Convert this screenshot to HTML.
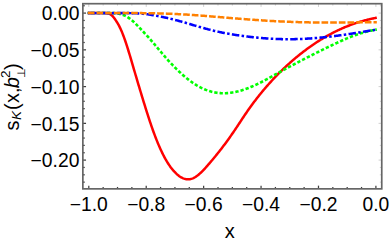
<!DOCTYPE html>
<html><head><meta charset="utf-8"><title>plot</title>
<style>
html,body{margin:0;padding:0;background:#fff;}
body{width:390px;height:243px;overflow:hidden;font-family:"Liberation Sans",sans-serif;}
svg{display:block;}
</style></head><body>
<svg width="390" height="243" viewBox="0 0 390 243">
<rect x="0" y="0" width="390" height="243" fill="#ffffff"/>
<clipPath id="c"><rect x="82.85" y="3.7" width="298.9" height="185.15"/></clipPath>
<g clip-path="url(#c)" fill="none" stroke-linejoin="round">
<path d="M87.70,13.00 L88.42,13.00 L89.15,13.00 L89.87,13.00 L90.60,13.00 L91.32,13.00 L92.05,13.00 L92.77,13.00 L93.50,13.00 L94.22,13.00 L94.95,13.00 L95.67,13.00 L96.40,13.00 L97.12,13.00 L97.84,13.00 L98.57,13.00 L99.29,13.00 L100.02,13.00 L100.74,13.01 L101.47,13.01 L102.19,13.01 L102.92,13.02 L103.64,13.03 L104.37,13.05 L105.09,13.08 L105.82,13.13 L106.54,13.19 L107.26,13.29 L107.99,13.43 L108.71,13.63 L109.44,13.89 L110.16,14.23 L110.89,14.68 L111.61,15.23 L112.34,15.90 L113.06,16.69 L113.79,17.58 L114.51,18.55 L115.23,19.58 L115.96,20.65 L116.68,21.75 L117.41,22.91 L118.13,24.13 L118.86,25.43 L119.58,26.84 L120.31,28.33 L121.03,29.92 L121.76,31.61 L122.48,33.38 L123.21,35.24 L123.93,37.17 L124.65,39.19 L125.38,41.28 L126.10,43.44 L126.83,45.66 L127.55,47.93 L128.28,50.25 L129.00,52.61 L129.73,55.01 L130.45,57.44 L131.18,59.89 L131.90,62.35 L132.63,64.83 L133.35,67.31 L134.07,69.79 L134.80,72.27 L135.52,74.74 L136.25,77.21 L136.97,79.66 L137.70,82.10 L138.42,84.52 L139.15,86.94 L139.87,89.34 L140.60,91.74 L141.32,94.13 L142.05,96.51 L142.77,98.89 L143.49,101.27 L144.22,103.63 L144.94,105.98 L145.67,108.31 L146.39,110.62 L147.12,112.91 L147.84,115.18 L148.57,117.42 L149.29,119.64 L150.02,121.82 L150.74,123.97 L151.47,126.09 L152.19,128.17 L152.91,130.21 L153.64,132.22 L154.36,134.19 L155.09,136.12 L155.81,138.00 L156.54,139.85 L157.26,141.65 L157.99,143.42 L158.71,145.14 L159.44,146.81 L160.16,148.45 L160.88,150.04 L161.61,151.58 L162.33,153.09 L163.06,154.54 L163.78,155.96 L164.51,157.32 L165.23,158.65 L165.96,159.92 L166.68,161.16 L167.41,162.35 L168.13,163.49 L168.86,164.60 L169.58,165.66 L170.30,166.68 L171.03,167.66 L171.75,168.59 L172.48,169.49 L173.20,170.35 L173.93,171.18 L174.65,171.97 L175.38,172.72 L176.10,173.43 L176.83,174.11 L177.55,174.75 L178.28,175.35 L179.00,175.91 L179.72,176.42 L180.45,176.90 L181.17,177.34 L181.90,177.73 L182.62,178.08 L183.35,178.39 L184.07,178.66 L184.80,178.88 L185.52,179.06 L186.25,179.19 L186.97,179.28 L187.70,179.32 L188.42,179.32 L189.14,179.27 L189.87,179.18 L190.59,179.04 L191.32,178.86 L192.04,178.63 L192.77,178.35 L193.49,178.03 L194.22,177.67 L194.94,177.26 L195.67,176.82 L196.39,176.34 L197.12,175.82 L197.84,175.27 L198.56,174.68 L199.29,174.07 L200.01,173.43 L200.74,172.76 L201.46,172.07 L202.19,171.35 L202.91,170.62 L203.64,169.86 L204.36,169.09 L205.09,168.30 L205.81,167.50 L206.54,166.69 L207.26,165.87 L207.98,165.03 L208.71,164.19 L209.43,163.35 L210.16,162.50 L210.88,161.65 L211.61,160.79 L212.33,159.93 L213.06,159.06 L213.78,158.19 L214.51,157.31 L215.23,156.43 L215.95,155.54 L216.68,154.65 L217.40,153.75 L218.13,152.84 L218.85,151.93 L219.58,151.01 L220.30,150.09 L221.03,149.15 L221.75,148.21 L222.48,147.27 L223.20,146.32 L223.93,145.36 L224.65,144.39 L225.37,143.41 L226.10,142.43 L226.82,141.44 L227.55,140.45 L228.27,139.44 L229.00,138.43 L229.72,137.41 L230.45,136.39 L231.17,135.36 L231.90,134.31 L232.62,133.27 L233.35,132.21 L234.07,131.15 L234.79,130.08 L235.52,129.00 L236.24,127.92 L236.97,126.83 L237.69,125.74 L238.42,124.64 L239.14,123.54 L239.87,122.45 L240.59,121.35 L241.32,120.25 L242.04,119.15 L242.77,118.06 L243.49,116.97 L244.21,115.89 L244.94,114.81 L245.66,113.74 L246.39,112.68 L247.11,111.63 L247.84,110.58 L248.56,109.55 L249.29,108.52 L250.01,107.51 L250.74,106.50 L251.46,105.50 L252.19,104.52 L252.91,103.54 L253.63,102.56 L254.36,101.60 L255.08,100.65 L255.81,99.70 L256.53,98.76 L257.26,97.83 L257.98,96.91 L258.71,96.00 L259.43,95.09 L260.16,94.19 L260.88,93.30 L261.60,92.42 L262.33,91.54 L263.05,90.67 L263.78,89.81 L264.50,88.96 L265.23,88.11 L265.95,87.27 L266.68,86.43 L267.40,85.60 L268.13,84.78 L268.85,83.97 L269.58,83.16 L270.30,82.36 L271.02,81.56 L271.75,80.77 L272.47,79.99 L273.20,79.21 L273.92,78.44 L274.65,77.67 L275.37,76.91 L276.10,76.16 L276.82,75.41 L277.55,74.67 L278.27,73.94 L279.00,73.21 L279.72,72.48 L280.44,71.76 L281.17,71.05 L281.89,70.34 L282.62,69.64 L283.34,68.94 L284.07,68.25 L284.79,67.56 L285.52,66.88 L286.24,66.21 L286.97,65.54 L287.69,64.87 L288.42,64.21 L289.14,63.56 L289.86,62.91 L290.59,62.26 L291.31,61.63 L292.04,60.99 L292.76,60.36 L293.49,59.74 L294.21,59.12 L294.94,58.51 L295.66,57.90 L296.39,57.29 L297.11,56.69 L297.84,56.10 L298.56,55.51 L299.28,54.93 L300.01,54.35 L300.73,53.77 L301.46,53.20 L302.18,52.64 L302.91,52.07 L303.63,51.52 L304.36,50.97 L305.08,50.42 L305.81,49.88 L306.53,49.34 L307.25,48.81 L307.98,48.28 L308.70,47.76 L309.43,47.24 L310.15,46.72 L310.88,46.21 L311.60,45.71 L312.33,45.20 L313.05,44.71 L313.78,44.22 L314.50,43.73 L315.23,43.24 L315.95,42.77 L316.67,42.29 L317.40,41.82 L318.12,41.36 L318.85,40.89 L319.57,40.44 L320.30,39.99 L321.02,39.54 L321.75,39.09 L322.47,38.65 L323.20,38.22 L323.92,37.79 L324.65,37.36 L325.37,36.94 L326.09,36.53 L326.82,36.11 L327.54,35.70 L328.27,35.30 L328.99,34.90 L329.72,34.51 L330.44,34.12 L331.17,33.73 L331.89,33.35 L332.62,32.97 L333.34,32.60 L334.07,32.23 L334.79,31.86 L335.51,31.50 L336.24,31.14 L336.96,30.79 L337.69,30.45 L338.41,30.10 L339.14,29.76 L339.86,29.43 L340.59,29.10 L341.31,28.77 L342.04,28.45 L342.76,28.13 L343.49,27.82 L344.21,27.51 L344.93,27.21 L345.66,26.91 L346.38,26.61 L347.11,26.32 L347.83,26.03 L348.56,25.75 L349.28,25.47 L350.01,25.19 L350.73,24.92 L351.46,24.65 L352.18,24.39 L352.91,24.13 L353.63,23.87 L354.35,23.62 L355.08,23.38 L355.80,23.13 L356.53,22.89 L357.25,22.66 L357.98,22.43 L358.70,22.20 L359.43,21.98 L360.15,21.76 L360.88,21.54 L361.60,21.33 L362.32,21.12 L363.05,20.91 L363.77,20.71 L364.50,20.52 L365.22,20.32 L365.95,20.13 L366.67,19.95 L367.40,19.76 L368.12,19.58 L368.85,19.41 L369.57,19.23 L370.30,19.07 L371.02,18.90 L371.74,18.74 L372.47,18.58 L373.19,18.42 L373.92,18.27 L374.64,18.12 L375.37,17.98 L376.09,17.83 L376.82,17.69" stroke="#ff0000" stroke-width="2.5"/>
<path d="M87.70,13.00 L88.42,13.00 L89.15,13.00 L89.87,13.00 L90.60,13.00 L91.32,13.00 L92.05,13.00 L92.77,13.00 L93.50,13.00 L94.22,13.00 L94.95,13.00 L95.67,13.00 L96.40,13.00 L97.12,13.00 L97.84,13.00 L98.57,13.00 L99.29,13.00 L100.02,13.00 L100.74,13.00 L101.47,13.00 L102.19,13.00 L102.92,13.00 L103.64,13.00 L104.37,13.00 L105.09,13.00 L105.82,13.00 L106.54,13.00 L107.26,13.00 L107.99,13.01 L108.71,13.01 L109.44,13.02 L110.16,13.02 L110.89,13.03 L111.61,13.05 L112.34,13.07 L113.06,13.10 L113.79,13.14 L114.51,13.19 L115.23,13.25 L115.96,13.33 L116.68,13.42 L117.41,13.52 L118.13,13.64 L118.86,13.77 L119.58,13.91 L120.31,14.08 L121.03,14.26 L121.76,14.47 L122.48,14.70 L123.21,14.96 L123.93,15.24 L124.65,15.56 L125.38,15.90 L126.10,16.27 L126.83,16.68 L127.55,17.11 L128.28,17.57 L129.00,18.06 L129.73,18.58 L130.45,19.13 L131.18,19.71 L131.90,20.31 L132.63,20.94 L133.35,21.58 L134.07,22.25 L134.80,22.94 L135.52,23.64 L136.25,24.36 L136.97,25.09 L137.70,25.83 L138.42,26.58 L139.15,27.34 L139.87,28.10 L140.60,28.87 L141.32,29.64 L142.05,30.42 L142.77,31.19 L143.49,31.97 L144.22,32.75 L144.94,33.53 L145.67,34.31 L146.39,35.09 L147.12,35.88 L147.84,36.68 L148.57,37.49 L149.29,38.30 L150.02,39.12 L150.74,39.95 L151.47,40.78 L152.19,41.62 L152.91,42.47 L153.64,43.32 L154.36,44.17 L155.09,45.03 L155.81,45.89 L156.54,46.75 L157.26,47.61 L157.99,48.48 L158.71,49.34 L159.44,50.20 L160.16,51.06 L160.88,51.92 L161.61,52.78 L162.33,53.63 L163.06,54.48 L163.78,55.32 L164.51,56.16 L165.23,57.00 L165.96,57.83 L166.68,58.65 L167.41,59.47 L168.13,60.28 L168.86,61.08 L169.58,61.87 L170.30,62.66 L171.03,63.44 L171.75,64.21 L172.48,64.98 L173.20,65.73 L173.93,66.48 L174.65,67.22 L175.38,67.95 L176.10,68.67 L176.83,69.38 L177.55,70.08 L178.28,70.78 L179.00,71.47 L179.72,72.15 L180.45,72.82 L181.17,73.48 L181.90,74.14 L182.62,74.78 L183.35,75.42 L184.07,76.05 L184.80,76.67 L185.52,77.28 L186.25,77.88 L186.97,78.47 L187.70,79.05 L188.42,79.62 L189.14,80.18 L189.87,80.73 L190.59,81.27 L191.32,81.80 L192.04,82.31 L192.77,82.82 L193.49,83.31 L194.22,83.79 L194.94,84.26 L195.67,84.72 L196.39,85.17 L197.12,85.60 L197.84,86.02 L198.56,86.43 L199.29,86.83 L200.01,87.21 L200.74,87.59 L201.46,87.95 L202.19,88.30 L202.91,88.63 L203.64,88.96 L204.36,89.27 L205.09,89.57 L205.81,89.85 L206.54,90.13 L207.26,90.39 L207.98,90.64 L208.71,90.88 L209.43,91.11 L210.16,91.33 L210.88,91.53 L211.61,91.72 L212.33,91.90 L213.06,92.07 L213.78,92.23 L214.51,92.37 L215.23,92.51 L215.95,92.63 L216.68,92.74 L217.40,92.84 L218.13,92.93 L218.85,93.00 L219.58,93.07 L220.30,93.12 L221.03,93.17 L221.75,93.20 L222.48,93.22 L223.20,93.23 L223.93,93.24 L224.65,93.23 L225.37,93.21 L226.10,93.18 L226.82,93.14 L227.55,93.09 L228.27,93.03 L229.00,92.96 L229.72,92.88 L230.45,92.79 L231.17,92.69 L231.90,92.58 L232.62,92.47 L233.35,92.34 L234.07,92.21 L234.79,92.07 L235.52,91.92 L236.24,91.76 L236.97,91.59 L237.69,91.42 L238.42,91.24 L239.14,91.05 L239.87,90.85 L240.59,90.64 L241.32,90.43 L242.04,90.21 L242.77,89.98 L243.49,89.75 L244.21,89.51 L244.94,89.26 L245.66,89.01 L246.39,88.75 L247.11,88.48 L247.84,88.21 L248.56,87.93 L249.29,87.64 L250.01,87.35 L250.74,87.05 L251.46,86.75 L252.19,86.44 L252.91,86.13 L253.63,85.81 L254.36,85.48 L255.08,85.15 L255.81,84.82 L256.53,84.48 L257.26,84.14 L257.98,83.79 L258.71,83.44 L259.43,83.08 L260.16,82.72 L260.88,82.36 L261.60,81.99 L262.33,81.61 L263.05,81.24 L263.78,80.86 L264.50,80.48 L265.23,80.09 L265.95,79.70 L266.68,79.31 L267.40,78.92 L268.13,78.53 L268.85,78.13 L269.58,77.73 L270.30,77.33 L271.02,76.93 L271.75,76.53 L272.47,76.12 L273.20,75.72 L273.92,75.32 L274.65,74.91 L275.37,74.51 L276.10,74.10 L276.82,73.70 L277.55,73.29 L278.27,72.89 L279.00,72.49 L279.72,72.08 L280.44,71.68 L281.17,71.28 L281.89,70.89 L282.62,70.49 L283.34,70.09 L284.07,69.70 L284.79,69.30 L285.52,68.91 L286.24,68.51 L286.97,68.12 L287.69,67.73 L288.42,67.34 L289.14,66.95 L289.86,66.56 L290.59,66.18 L291.31,65.79 L292.04,65.41 L292.76,65.02 L293.49,64.64 L294.21,64.25 L294.94,63.87 L295.66,63.49 L296.39,63.11 L297.11,62.73 L297.84,62.34 L298.56,61.97 L299.28,61.59 L300.01,61.21 L300.73,60.83 L301.46,60.45 L302.18,60.08 L302.91,59.70 L303.63,59.33 L304.36,58.95 L305.08,58.58 L305.81,58.21 L306.53,57.83 L307.25,57.46 L307.98,57.09 L308.70,56.72 L309.43,56.35 L310.15,55.98 L310.88,55.61 L311.60,55.25 L312.33,54.88 L313.05,54.51 L313.78,54.15 L314.50,53.78 L315.23,53.42 L315.95,53.05 L316.67,52.69 L317.40,52.33 L318.12,51.97 L318.85,51.60 L319.57,51.24 L320.30,50.88 L321.02,50.53 L321.75,50.17 L322.47,49.81 L323.20,49.45 L323.92,49.10 L324.65,48.74 L325.37,48.39 L326.09,48.04 L326.82,47.69 L327.54,47.33 L328.27,46.98 L328.99,46.63 L329.72,46.29 L330.44,45.94 L331.17,45.59 L331.89,45.25 L332.62,44.90 L333.34,44.56 L334.07,44.22 L334.79,43.88 L335.51,43.54 L336.24,43.20 L336.96,42.86 L337.69,42.53 L338.41,42.19 L339.14,41.86 L339.86,41.53 L340.59,41.20 L341.31,40.87 L342.04,40.55 L342.76,40.22 L343.49,39.90 L344.21,39.59 L344.93,39.27 L345.66,38.96 L346.38,38.66 L347.11,38.35 L347.83,38.05 L348.56,37.75 L349.28,37.46 L350.01,37.17 L350.73,36.89 L351.46,36.60 L352.18,36.33 L352.91,36.05 L353.63,35.78 L354.35,35.52 L355.08,35.25 L355.80,35.00 L356.53,34.74 L357.25,34.49 L357.98,34.25 L358.70,34.01 L359.43,33.77 L360.15,33.54 L360.88,33.32 L361.60,33.09 L362.32,32.88 L363.05,32.66 L363.77,32.46 L364.50,32.25 L365.22,32.05 L365.95,31.86 L366.67,31.67 L367.40,31.48 L368.12,31.30 L368.85,31.12 L369.57,30.95 L370.30,30.78 L371.02,30.62 L371.74,30.46 L372.47,30.31 L373.19,30.16 L373.92,30.02 L374.64,29.88 L375.37,29.74 L376.09,29.61 L376.82,29.48" stroke="#00ff00" stroke-width="2.6" stroke-dasharray="3.3 2.0" stroke-dashoffset="1.86"/>
<path d="M87.70,13.00 L88.42,13.00 L89.15,13.00 L89.87,13.00 L90.60,13.00 L91.32,13.00 L92.05,13.00 L92.77,13.00 L93.50,13.00 L94.22,13.00 L94.95,13.00 L95.67,13.00 L96.40,13.00 L97.12,13.00 L97.84,13.00 L98.57,13.00 L99.29,13.00 L100.02,13.00 L100.74,13.00 L101.47,13.00 L102.19,13.00 L102.92,13.00 L103.64,13.00 L104.37,13.00 L105.09,13.00 L105.82,13.00 L106.54,13.00 L107.26,13.00 L107.99,13.00 L108.71,13.00 L109.44,13.00 L110.16,13.00 L110.89,13.00 L111.61,13.00 L112.34,13.00 L113.06,13.00 L113.79,13.00 L114.51,13.00 L115.23,13.00 L115.96,13.00 L116.68,13.00 L117.41,13.00 L118.13,13.01 L118.86,13.01 L119.58,13.01 L120.31,13.01 L121.03,13.01 L121.76,13.01 L122.48,13.02 L123.21,13.02 L123.93,13.02 L124.65,13.03 L125.38,13.03 L126.10,13.04 L126.83,13.04 L127.55,13.05 L128.28,13.06 L129.00,13.07 L129.73,13.08 L130.45,13.09 L131.18,13.11 L131.90,13.13 L132.63,13.15 L133.35,13.17 L134.07,13.19 L134.80,13.22 L135.52,13.25 L136.25,13.29 L136.97,13.32 L137.70,13.36 L138.42,13.41 L139.15,13.46 L139.87,13.51 L140.60,13.56 L141.32,13.63 L142.05,13.69 L142.77,13.76 L143.49,13.83 L144.22,13.91 L144.94,13.99 L145.67,14.08 L146.39,14.17 L147.12,14.26 L147.84,14.36 L148.57,14.46 L149.29,14.57 L150.02,14.68 L150.74,14.79 L151.47,14.91 L152.19,15.03 L152.91,15.15 L153.64,15.27 L154.36,15.40 L155.09,15.53 L155.81,15.66 L156.54,15.80 L157.26,15.93 L157.99,16.07 L158.71,16.21 L159.44,16.35 L160.16,16.50 L160.88,16.64 L161.61,16.79 L162.33,16.93 L163.06,17.08 L163.78,17.23 L164.51,17.39 L165.23,17.54 L165.96,17.70 L166.68,17.86 L167.41,18.02 L168.13,18.18 L168.86,18.35 L169.58,18.52 L170.30,18.69 L171.03,18.87 L171.75,19.05 L172.48,19.23 L173.20,19.41 L173.93,19.59 L174.65,19.78 L175.38,19.97 L176.10,20.16 L176.83,20.36 L177.55,20.55 L178.28,20.75 L179.00,20.95 L179.72,21.15 L180.45,21.36 L181.17,21.56 L181.90,21.77 L182.62,21.97 L183.35,22.18 L184.07,22.39 L184.80,22.60 L185.52,22.81 L186.25,23.03 L186.97,23.24 L187.70,23.45 L188.42,23.67 L189.14,23.88 L189.87,24.09 L190.59,24.31 L191.32,24.52 L192.04,24.74 L192.77,24.95 L193.49,25.17 L194.22,25.38 L194.94,25.60 L195.67,25.81 L196.39,26.02 L197.12,26.23 L197.84,26.44 L198.56,26.65 L199.29,26.86 L200.01,27.07 L200.74,27.28 L201.46,27.48 L202.19,27.69 L202.91,27.89 L203.64,28.09 L204.36,28.29 L205.09,28.49 L205.81,28.69 L206.54,28.88 L207.26,29.07 L207.98,29.27 L208.71,29.45 L209.43,29.64 L210.16,29.83 L210.88,30.01 L211.61,30.19 L212.33,30.37 L213.06,30.55 L213.78,30.72 L214.51,30.89 L215.23,31.06 L215.95,31.23 L216.68,31.39 L217.40,31.56 L218.13,31.72 L218.85,31.88 L219.58,32.03 L220.30,32.19 L221.03,32.34 L221.75,32.49 L222.48,32.63 L223.20,32.78 L223.93,32.92 L224.65,33.06 L225.37,33.20 L226.10,33.34 L226.82,33.47 L227.55,33.60 L228.27,33.73 L229.00,33.86 L229.72,33.98 L230.45,34.11 L231.17,34.23 L231.90,34.35 L232.62,34.46 L233.35,34.58 L234.07,34.69 L234.79,34.81 L235.52,34.92 L236.24,35.03 L236.97,35.14 L237.69,35.24 L238.42,35.35 L239.14,35.45 L239.87,35.55 L240.59,35.65 L241.32,35.75 L242.04,35.85 L242.77,35.95 L243.49,36.05 L244.21,36.14 L244.94,36.24 L245.66,36.33 L246.39,36.42 L247.11,36.51 L247.84,36.60 L248.56,36.69 L249.29,36.78 L250.01,36.86 L250.74,36.95 L251.46,37.03 L252.19,37.11 L252.91,37.19 L253.63,37.27 L254.36,37.35 L255.08,37.42 L255.81,37.50 L256.53,37.57 L257.26,37.64 L257.98,37.71 L258.71,37.78 L259.43,37.85 L260.16,37.91 L260.88,37.98 L261.60,38.04 L262.33,38.10 L263.05,38.16 L263.78,38.22 L264.50,38.27 L265.23,38.33 L265.95,38.38 L266.68,38.43 L267.40,38.48 L268.13,38.53 L268.85,38.58 L269.58,38.62 L270.30,38.67 L271.02,38.71 L271.75,38.75 L272.47,38.79 L273.20,38.82 L273.92,38.86 L274.65,38.89 L275.37,38.92 L276.10,38.95 L276.82,38.98 L277.55,39.01 L278.27,39.03 L279.00,39.06 L279.72,39.08 L280.44,39.10 L281.17,39.11 L281.89,39.13 L282.62,39.15 L283.34,39.16 L284.07,39.17 L284.79,39.18 L285.52,39.19 L286.24,39.19 L286.97,39.20 L287.69,39.20 L288.42,39.20 L289.14,39.20 L289.86,39.20 L290.59,39.19 L291.31,39.19 L292.04,39.18 L292.76,39.17 L293.49,39.16 L294.21,39.15 L294.94,39.13 L295.66,39.12 L296.39,39.10 L297.11,39.08 L297.84,39.06 L298.56,39.04 L299.28,39.01 L300.01,38.99 L300.73,38.96 L301.46,38.93 L302.18,38.90 L302.91,38.87 L303.63,38.84 L304.36,38.80 L305.08,38.76 L305.81,38.72 L306.53,38.68 L307.25,38.64 L307.98,38.60 L308.70,38.55 L309.43,38.51 L310.15,38.46 L310.88,38.41 L311.60,38.36 L312.33,38.31 L313.05,38.25 L313.78,38.20 L314.50,38.14 L315.23,38.08 L315.95,38.02 L316.67,37.96 L317.40,37.90 L318.12,37.84 L318.85,37.77 L319.57,37.70 L320.30,37.64 L321.02,37.57 L321.75,37.50 L322.47,37.42 L323.20,37.35 L323.92,37.28 L324.65,37.20 L325.37,37.12 L326.09,37.05 L326.82,36.97 L327.54,36.89 L328.27,36.81 L328.99,36.72 L329.72,36.64 L330.44,36.55 L331.17,36.47 L331.89,36.38 L332.62,36.29 L333.34,36.20 L334.07,36.11 L334.79,36.02 L335.51,35.93 L336.24,35.83 L336.96,35.74 L337.69,35.64 L338.41,35.55 L339.14,35.45 L339.86,35.35 L340.59,35.25 L341.31,35.15 L342.04,35.05 L342.76,34.95 L343.49,34.84 L344.21,34.74 L344.93,34.64 L345.66,34.53 L346.38,34.43 L347.11,34.32 L347.83,34.21 L348.56,34.10 L349.28,33.99 L350.01,33.89 L350.73,33.78 L351.46,33.66 L352.18,33.55 L352.91,33.44 L353.63,33.33 L354.35,33.22 L355.08,33.10 L355.80,32.99 L356.53,32.87 L357.25,32.76 L357.98,32.64 L358.70,32.53 L359.43,32.41 L360.15,32.29 L360.88,32.18 L361.60,32.06 L362.32,31.94 L363.05,31.82 L363.77,31.70 L364.50,31.58 L365.22,31.46 L365.95,31.34 L366.67,31.23 L367.40,31.10 L368.12,30.98 L368.85,30.86 L369.57,30.74 L370.30,30.62 L371.02,30.50 L371.74,30.38 L372.47,30.26 L373.19,30.14 L373.92,30.01 L374.64,29.89 L375.37,29.77 L376.09,29.65 L376.82,29.53" stroke="#0000ff" stroke-width="2.55" stroke-dasharray="7.5 2.3 2.5 2.35" stroke-dashoffset="14.48"/>
<path d="M87.85,13.10 L133,13.10" stroke="#0000ff" stroke-width="2.2"/>
<path d="M87.70,13.00 L88.42,13.00 L89.15,13.00 L89.87,13.00 L90.60,13.00 L91.32,13.00 L92.05,13.00 L92.77,13.00 L93.50,13.00 L94.22,13.00 L94.95,13.00 L95.67,13.00 L96.40,13.00 L97.12,13.00 L97.84,13.00 L98.57,13.00 L99.29,13.00 L100.02,13.00 L100.74,13.00 L101.47,13.00 L102.19,13.00 L102.92,13.00 L103.64,13.00 L104.37,13.00 L105.09,13.00 L105.82,13.00 L106.54,13.00 L107.26,13.00 L107.99,13.00 L108.71,13.00 L109.44,13.00 L110.16,13.01 L110.89,13.01 L111.61,13.01 L112.34,13.01 L113.06,13.01 L113.79,13.01 L114.51,13.01 L115.23,13.01 L115.96,13.01 L116.68,13.01 L117.41,13.01 L118.13,13.01 L118.86,13.01 L119.58,13.01 L120.31,13.02 L121.03,13.02 L121.76,13.02 L122.48,13.02 L123.21,13.02 L123.93,13.02 L124.65,13.03 L125.38,13.03 L126.10,13.03 L126.83,13.03 L127.55,13.03 L128.28,13.04 L129.00,13.04 L129.73,13.04 L130.45,13.04 L131.18,13.05 L131.90,13.05 L132.63,13.05 L133.35,13.06 L134.07,13.06 L134.80,13.07 L135.52,13.07 L136.25,13.07 L136.97,13.08 L137.70,13.08 L138.42,13.09 L139.15,13.10 L139.87,13.10 L140.60,13.11 L141.32,13.11 L142.05,13.12 L142.77,13.13 L143.49,13.14 L144.22,13.14 L144.94,13.15 L145.67,13.16 L146.39,13.17 L147.12,13.18 L147.84,13.19 L148.57,13.20 L149.29,13.21 L150.02,13.22 L150.74,13.23 L151.47,13.24 L152.19,13.26 L152.91,13.27 L153.64,13.28 L154.36,13.30 L155.09,13.31 L155.81,13.33 L156.54,13.34 L157.26,13.36 L157.99,13.38 L158.71,13.39 L159.44,13.41 L160.16,13.43 L160.88,13.45 L161.61,13.47 L162.33,13.49 L163.06,13.51 L163.78,13.54 L164.51,13.56 L165.23,13.58 L165.96,13.61 L166.68,13.63 L167.41,13.66 L168.13,13.68 L168.86,13.71 L169.58,13.74 L170.30,13.77 L171.03,13.79 L171.75,13.82 L172.48,13.85 L173.20,13.89 L173.93,13.92 L174.65,13.95 L175.38,13.98 L176.10,14.02 L176.83,14.05 L177.55,14.09 L178.28,14.13 L179.00,14.16 L179.72,14.20 L180.45,14.24 L181.17,14.28 L181.90,14.32 L182.62,14.36 L183.35,14.40 L184.07,14.44 L184.80,14.49 L185.52,14.53 L186.25,14.58 L186.97,14.62 L187.70,14.67 L188.42,14.71 L189.14,14.76 L189.87,14.81 L190.59,14.86 L191.32,14.90 L192.04,14.95 L192.77,15.00 L193.49,15.05 L194.22,15.11 L194.94,15.16 L195.67,15.21 L196.39,15.26 L197.12,15.32 L197.84,15.37 L198.56,15.42 L199.29,15.48 L200.01,15.53 L200.74,15.59 L201.46,15.64 L202.19,15.70 L202.91,15.76 L203.64,15.81 L204.36,15.87 L205.09,15.93 L205.81,15.99 L206.54,16.04 L207.26,16.10 L207.98,16.16 L208.71,16.22 L209.43,16.28 L210.16,16.34 L210.88,16.40 L211.61,16.46 L212.33,16.52 L213.06,16.58 L213.78,16.64 L214.51,16.70 L215.23,16.76 L215.95,16.82 L216.68,16.88 L217.40,16.94 L218.13,17.00 L218.85,17.06 L219.58,17.12 L220.30,17.18 L221.03,17.24 L221.75,17.30 L222.48,17.36 L223.20,17.42 L223.93,17.48 L224.65,17.54 L225.37,17.60 L226.10,17.66 L226.82,17.72 L227.55,17.78 L228.27,17.84 L229.00,17.89 L229.72,17.95 L230.45,18.01 L231.17,18.07 L231.90,18.13 L232.62,18.19 L233.35,18.25 L234.07,18.30 L234.79,18.36 L235.52,18.42 L236.24,18.48 L236.97,18.53 L237.69,18.59 L238.42,18.65 L239.14,18.71 L239.87,18.76 L240.59,18.82 L241.32,18.88 L242.04,18.93 L242.77,18.99 L243.49,19.04 L244.21,19.10 L244.94,19.16 L245.66,19.21 L246.39,19.27 L247.11,19.32 L247.84,19.38 L248.56,19.43 L249.29,19.48 L250.01,19.54 L250.74,19.59 L251.46,19.64 L252.19,19.70 L252.91,19.75 L253.63,19.80 L254.36,19.85 L255.08,19.91 L255.81,19.96 L256.53,20.01 L257.26,20.06 L257.98,20.11 L258.71,20.16 L259.43,20.21 L260.16,20.26 L260.88,20.31 L261.60,20.35 L262.33,20.40 L263.05,20.45 L263.78,20.50 L264.50,20.54 L265.23,20.59 L265.95,20.63 L266.68,20.68 L267.40,20.72 L268.13,20.77 L268.85,20.81 L269.58,20.85 L270.30,20.90 L271.02,20.94 L271.75,20.98 L272.47,21.02 L273.20,21.06 L273.92,21.10 L274.65,21.14 L275.37,21.18 L276.10,21.22 L276.82,21.25 L277.55,21.29 L278.27,21.33 L279.00,21.36 L279.72,21.40 L280.44,21.44 L281.17,21.47 L281.89,21.50 L282.62,21.54 L283.34,21.57 L284.07,21.60 L284.79,21.63 L285.52,21.67 L286.24,21.70 L286.97,21.73 L287.69,21.76 L288.42,21.78 L289.14,21.81 L289.86,21.84 L290.59,21.87 L291.31,21.89 L292.04,21.92 L292.76,21.95 L293.49,21.97 L294.21,21.99 L294.94,22.02 L295.66,22.04 L296.39,22.06 L297.11,22.09 L297.84,22.11 L298.56,22.13 L299.28,22.15 L300.01,22.17 L300.73,22.19 L301.46,22.21 L302.18,22.22 L302.91,22.24 L303.63,22.26 L304.36,22.28 L305.08,22.29 L305.81,22.31 L306.53,22.32 L307.25,22.34 L307.98,22.35 L308.70,22.36 L309.43,22.38 L310.15,22.39 L310.88,22.40 L311.60,22.41 L312.33,22.42 L313.05,22.43 L313.78,22.44 L314.50,22.45 L315.23,22.46 L315.95,22.47 L316.67,22.48 L317.40,22.48 L318.12,22.49 L318.85,22.50 L319.57,22.50 L320.30,22.51 L321.02,22.52 L321.75,22.52 L322.47,22.52 L323.20,22.53 L323.92,22.53 L324.65,22.54 L325.37,22.54 L326.09,22.54 L326.82,22.54 L327.54,22.54 L328.27,22.55 L328.99,22.55 L329.72,22.55 L330.44,22.55 L331.17,22.55 L331.89,22.55 L332.62,22.55 L333.34,22.55 L334.07,22.54 L334.79,22.54 L335.51,22.54 L336.24,22.54 L336.96,22.53 L337.69,22.53 L338.41,22.53 L339.14,22.52 L339.86,22.52 L340.59,22.52 L341.31,22.51 L342.04,22.51 L342.76,22.50 L343.49,22.50 L344.21,22.49 L344.93,22.49 L345.66,22.48 L346.38,22.48 L347.11,22.47 L347.83,22.46 L348.56,22.46 L349.28,22.45 L350.01,22.44 L350.73,22.44 L351.46,22.43 L352.18,22.42 L352.91,22.41 L353.63,22.41 L354.35,22.40 L355.08,22.39 L355.80,22.38 L356.53,22.38 L357.25,22.37 L357.98,22.36 L358.70,22.35 L359.43,22.34 L360.15,22.33 L360.88,22.33 L361.60,22.32 L362.32,22.31 L363.05,22.30 L363.77,22.29 L364.50,22.28 L365.22,22.27 L365.95,22.26 L366.67,22.25 L367.40,22.25 L368.12,22.24 L368.85,22.23 L369.57,22.22 L370.30,22.21 L371.02,22.20 L371.74,22.19 L372.47,22.18 L373.19,22.17 L373.92,22.17 L374.64,22.16 L375.37,22.15 L376.09,22.14 L376.82,22.13" stroke="#ff8000" stroke-width="2.5" stroke-dasharray="6.665 2.0" stroke-dashoffset="8.51"/>
</g>
<line x1="88.80" y1="188.85" x2="88.80" y2="185.65" stroke="#404040" stroke-width="1.25"/><line x1="88.80" y1="3.7" x2="88.80" y2="6.90" stroke="#b0b0b0" stroke-width="0.6"/><line x1="103.16" y1="188.85" x2="103.16" y2="186.95" stroke="#404040" stroke-width="1.25"/><line x1="103.16" y1="3.7" x2="103.16" y2="5.60" stroke="#b0b0b0" stroke-width="0.6"/><line x1="117.51" y1="188.85" x2="117.51" y2="186.95" stroke="#404040" stroke-width="1.25"/><line x1="117.51" y1="3.7" x2="117.51" y2="5.60" stroke="#b0b0b0" stroke-width="0.6"/><line x1="131.87" y1="188.85" x2="131.87" y2="186.95" stroke="#404040" stroke-width="1.25"/><line x1="131.87" y1="3.7" x2="131.87" y2="5.60" stroke="#b0b0b0" stroke-width="0.6"/><line x1="146.22" y1="188.85" x2="146.22" y2="185.65" stroke="#404040" stroke-width="1.25"/><line x1="146.22" y1="3.7" x2="146.22" y2="6.90" stroke="#b0b0b0" stroke-width="0.6"/><line x1="160.57" y1="188.85" x2="160.57" y2="186.95" stroke="#404040" stroke-width="1.25"/><line x1="160.57" y1="3.7" x2="160.57" y2="5.60" stroke="#b0b0b0" stroke-width="0.6"/><line x1="174.93" y1="188.85" x2="174.93" y2="186.95" stroke="#404040" stroke-width="1.25"/><line x1="174.93" y1="3.7" x2="174.93" y2="5.60" stroke="#b0b0b0" stroke-width="0.6"/><line x1="189.28" y1="188.85" x2="189.28" y2="186.95" stroke="#404040" stroke-width="1.25"/><line x1="189.28" y1="3.7" x2="189.28" y2="5.60" stroke="#b0b0b0" stroke-width="0.6"/><line x1="203.64" y1="188.85" x2="203.64" y2="185.65" stroke="#404040" stroke-width="1.25"/><line x1="203.64" y1="3.7" x2="203.64" y2="6.90" stroke="#b0b0b0" stroke-width="0.6"/><line x1="218.00" y1="188.85" x2="218.00" y2="186.95" stroke="#404040" stroke-width="1.25"/><line x1="218.00" y1="3.7" x2="218.00" y2="5.60" stroke="#b0b0b0" stroke-width="0.6"/><line x1="232.35" y1="188.85" x2="232.35" y2="186.95" stroke="#404040" stroke-width="1.25"/><line x1="232.35" y1="3.7" x2="232.35" y2="5.60" stroke="#b0b0b0" stroke-width="0.6"/><line x1="246.70" y1="188.85" x2="246.70" y2="186.95" stroke="#404040" stroke-width="1.25"/><line x1="246.70" y1="3.7" x2="246.70" y2="5.60" stroke="#b0b0b0" stroke-width="0.6"/><line x1="261.06" y1="188.85" x2="261.06" y2="185.65" stroke="#404040" stroke-width="1.25"/><line x1="261.06" y1="3.7" x2="261.06" y2="6.90" stroke="#b0b0b0" stroke-width="0.6"/><line x1="275.41" y1="188.85" x2="275.41" y2="186.95" stroke="#404040" stroke-width="1.25"/><line x1="275.41" y1="3.7" x2="275.41" y2="5.60" stroke="#b0b0b0" stroke-width="0.6"/><line x1="289.77" y1="188.85" x2="289.77" y2="186.95" stroke="#404040" stroke-width="1.25"/><line x1="289.77" y1="3.7" x2="289.77" y2="5.60" stroke="#b0b0b0" stroke-width="0.6"/><line x1="304.12" y1="188.85" x2="304.12" y2="186.95" stroke="#404040" stroke-width="1.25"/><line x1="304.12" y1="3.7" x2="304.12" y2="5.60" stroke="#b0b0b0" stroke-width="0.6"/><line x1="318.48" y1="188.85" x2="318.48" y2="185.65" stroke="#404040" stroke-width="1.25"/><line x1="318.48" y1="3.7" x2="318.48" y2="6.90" stroke="#b0b0b0" stroke-width="0.6"/><line x1="332.83" y1="188.85" x2="332.83" y2="186.95" stroke="#404040" stroke-width="1.25"/><line x1="332.83" y1="3.7" x2="332.83" y2="5.60" stroke="#b0b0b0" stroke-width="0.6"/><line x1="347.19" y1="188.85" x2="347.19" y2="186.95" stroke="#404040" stroke-width="1.25"/><line x1="347.19" y1="3.7" x2="347.19" y2="5.60" stroke="#b0b0b0" stroke-width="0.6"/><line x1="361.54" y1="188.85" x2="361.54" y2="186.95" stroke="#404040" stroke-width="1.25"/><line x1="361.54" y1="3.7" x2="361.54" y2="5.60" stroke="#b0b0b0" stroke-width="0.6"/><line x1="375.90" y1="188.85" x2="375.90" y2="185.65" stroke="#404040" stroke-width="1.25"/><line x1="375.90" y1="3.7" x2="375.90" y2="6.90" stroke="#b0b0b0" stroke-width="0.6"/><line x1="82.85" y1="5.75" x2="84.75" y2="5.75" stroke="#404040" stroke-width="1.25"/><line x1="381.75" y1="5.75" x2="379.85" y2="5.75" stroke="#b0b0b0" stroke-width="0.6"/><line x1="82.85" y1="13.10" x2="86.05" y2="13.10" stroke="#404040" stroke-width="1.25"/><line x1="381.75" y1="13.10" x2="378.55" y2="13.10" stroke="#b0b0b0" stroke-width="0.6"/><line x1="82.85" y1="20.45" x2="84.75" y2="20.45" stroke="#404040" stroke-width="1.25"/><line x1="381.75" y1="20.45" x2="379.85" y2="20.45" stroke="#b0b0b0" stroke-width="0.6"/><line x1="82.85" y1="27.80" x2="84.75" y2="27.80" stroke="#404040" stroke-width="1.25"/><line x1="381.75" y1="27.80" x2="379.85" y2="27.80" stroke="#b0b0b0" stroke-width="0.6"/><line x1="82.85" y1="35.15" x2="84.75" y2="35.15" stroke="#404040" stroke-width="1.25"/><line x1="381.75" y1="35.15" x2="379.85" y2="35.15" stroke="#b0b0b0" stroke-width="0.6"/><line x1="82.85" y1="42.50" x2="84.75" y2="42.50" stroke="#404040" stroke-width="1.25"/><line x1="381.75" y1="42.50" x2="379.85" y2="42.50" stroke="#b0b0b0" stroke-width="0.6"/><line x1="82.85" y1="49.85" x2="86.05" y2="49.85" stroke="#404040" stroke-width="1.25"/><line x1="381.75" y1="49.85" x2="378.55" y2="49.85" stroke="#b0b0b0" stroke-width="0.6"/><line x1="82.85" y1="57.20" x2="84.75" y2="57.20" stroke="#404040" stroke-width="1.25"/><line x1="381.75" y1="57.20" x2="379.85" y2="57.20" stroke="#b0b0b0" stroke-width="0.6"/><line x1="82.85" y1="64.55" x2="84.75" y2="64.55" stroke="#404040" stroke-width="1.25"/><line x1="381.75" y1="64.55" x2="379.85" y2="64.55" stroke="#b0b0b0" stroke-width="0.6"/><line x1="82.85" y1="71.90" x2="84.75" y2="71.90" stroke="#404040" stroke-width="1.25"/><line x1="381.75" y1="71.90" x2="379.85" y2="71.90" stroke="#b0b0b0" stroke-width="0.6"/><line x1="82.85" y1="79.25" x2="84.75" y2="79.25" stroke="#404040" stroke-width="1.25"/><line x1="381.75" y1="79.25" x2="379.85" y2="79.25" stroke="#b0b0b0" stroke-width="0.6"/><line x1="82.85" y1="86.60" x2="86.05" y2="86.60" stroke="#404040" stroke-width="1.25"/><line x1="381.75" y1="86.60" x2="378.55" y2="86.60" stroke="#b0b0b0" stroke-width="0.6"/><line x1="82.85" y1="93.95" x2="84.75" y2="93.95" stroke="#404040" stroke-width="1.25"/><line x1="381.75" y1="93.95" x2="379.85" y2="93.95" stroke="#b0b0b0" stroke-width="0.6"/><line x1="82.85" y1="101.30" x2="84.75" y2="101.30" stroke="#404040" stroke-width="1.25"/><line x1="381.75" y1="101.30" x2="379.85" y2="101.30" stroke="#b0b0b0" stroke-width="0.6"/><line x1="82.85" y1="108.65" x2="84.75" y2="108.65" stroke="#404040" stroke-width="1.25"/><line x1="381.75" y1="108.65" x2="379.85" y2="108.65" stroke="#b0b0b0" stroke-width="0.6"/><line x1="82.85" y1="116.00" x2="84.75" y2="116.00" stroke="#404040" stroke-width="1.25"/><line x1="381.75" y1="116.00" x2="379.85" y2="116.00" stroke="#b0b0b0" stroke-width="0.6"/><line x1="82.85" y1="123.35" x2="86.05" y2="123.35" stroke="#404040" stroke-width="1.25"/><line x1="381.75" y1="123.35" x2="378.55" y2="123.35" stroke="#b0b0b0" stroke-width="0.6"/><line x1="82.85" y1="130.70" x2="84.75" y2="130.70" stroke="#404040" stroke-width="1.25"/><line x1="381.75" y1="130.70" x2="379.85" y2="130.70" stroke="#b0b0b0" stroke-width="0.6"/><line x1="82.85" y1="138.05" x2="84.75" y2="138.05" stroke="#404040" stroke-width="1.25"/><line x1="381.75" y1="138.05" x2="379.85" y2="138.05" stroke="#b0b0b0" stroke-width="0.6"/><line x1="82.85" y1="145.40" x2="84.75" y2="145.40" stroke="#404040" stroke-width="1.25"/><line x1="381.75" y1="145.40" x2="379.85" y2="145.40" stroke="#b0b0b0" stroke-width="0.6"/><line x1="82.85" y1="152.75" x2="84.75" y2="152.75" stroke="#404040" stroke-width="1.25"/><line x1="381.75" y1="152.75" x2="379.85" y2="152.75" stroke="#b0b0b0" stroke-width="0.6"/><line x1="82.85" y1="160.10" x2="86.05" y2="160.10" stroke="#404040" stroke-width="1.25"/><line x1="381.75" y1="160.10" x2="378.55" y2="160.10" stroke="#b0b0b0" stroke-width="0.6"/><line x1="82.85" y1="167.45" x2="84.75" y2="167.45" stroke="#404040" stroke-width="1.25"/><line x1="381.75" y1="167.45" x2="379.85" y2="167.45" stroke="#b0b0b0" stroke-width="0.6"/><line x1="82.85" y1="174.80" x2="84.75" y2="174.80" stroke="#404040" stroke-width="1.25"/><line x1="381.75" y1="174.80" x2="379.85" y2="174.80" stroke="#b0b0b0" stroke-width="0.6"/><line x1="82.85" y1="182.15" x2="84.75" y2="182.15" stroke="#404040" stroke-width="1.25"/><line x1="381.75" y1="182.15" x2="379.85" y2="182.15" stroke="#b0b0b0" stroke-width="0.6"/>
<rect x="82.85" y="3.7" width="298.9" height="185.15" fill="none" stroke="#666666" stroke-width="1.7"/>
<g fill="#000000" font-family="'Liberation Sans', sans-serif" font-size="19.3">
<text x="79.4" y="20.25" text-anchor="end">0.00</text>
<text x="79.4" y="57" text-anchor="end">−0.05</text>
<text x="79.4" y="93.75" text-anchor="end">−0.10</text>
<text x="79.4" y="130.5" text-anchor="end">−0.15</text>
<text x="79.4" y="167.25" text-anchor="end">−0.20</text>
<text x="88.8" y="210.55" text-anchor="middle">−1.0</text>
<text x="146.22" y="210.55" text-anchor="middle">−0.8</text>
<text x="203.64" y="210.55" text-anchor="middle">−0.6</text>
<text x="261.06" y="210.55" text-anchor="middle">−0.4</text>
<text x="318.48" y="210.55" text-anchor="middle">−0.2</text>
<text x="375.9" y="210.55" text-anchor="middle">0.0</text>
<text x="229.8" y="238.4" text-anchor="middle" font-size="20">x</text>
<g transform="translate(18.6,130.5) rotate(-90)" font-size="20">
<text x="0" y="0">s</text>
<text x="10.6" y="2.8" font-size="13.5" font-style="italic">K</text>
<text x="20.5" y="0">(</text>
<text x="27.6" y="0">x</text>
<text x="37.6" y="0">,</text>
<text x="42.3" y="0" font-style="italic">b</text>
<text x="52.5" y="-9.1" font-size="13.5">2</text>
<text x="52.6" y="6" font-size="11" font-family="'Liberation Sans', 'DejaVu Sans', sans-serif">⊥</text>
<text x="60.5" y="0">)</text>
</g>
</g>
</svg>
</body></html>
